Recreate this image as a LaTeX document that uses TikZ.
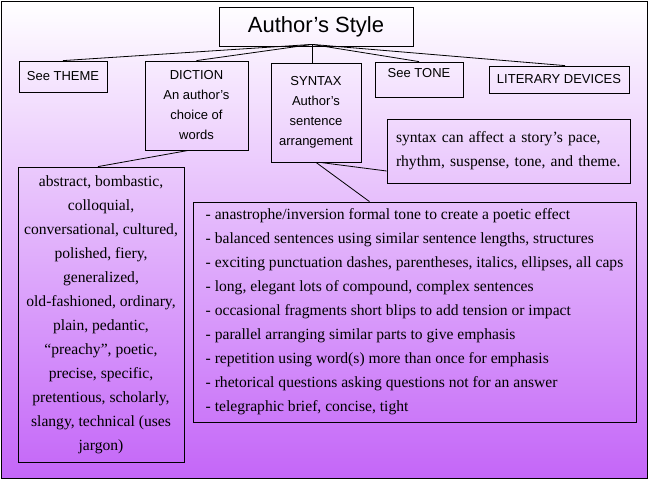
\documentclass[tikz,border=0pt]{standalone}
\usepackage{fontspec}
\setmainfont{Liberation Serif}
\setsansfont{Liberation Sans}
\usetikzlibrary{positioning}
\definecolor{lilac}{RGB}{196,102,248}

\begin{document}
\begin{tikzpicture}[x=1pt,y=-1pt]

\tikzset{box/.style={draw=black, line width=0.8pt, inner sep=0pt, align=center},
         sanstext/.style={font=\sffamily\fontsize{13}{20}\selectfont},
         seriftext/.style={font=\rmfamily\fontsize{15.6}{24}\selectfont},
         link/.style={draw=black, line width=0.8pt}}

\useasboundingbox (0,0) rectangle (649,479);
\shade[top color=white, bottom color=lilac] (1,1) rectangle (647,478);
\draw[line width=1pt] (1,1) rectangle (647,478);

\node[box, minimum width=194, minimum height=39, font=\sffamily\fontsize{22}{24}\selectfont]
    (title) at (316,26.5) {Author's Style};

\node[box, sanstext, minimum width=88, minimum height=31] (theme) at (63,76.5) {See THEME};
\node[box, sanstext, minimum width=103, minimum height=89] (diction) at (196.5,105.5)
    {DICTION\\An author's\\choice of\\words};
\node[box, sanstext, minimum width=90, minimum height=99] (syntax) at (316,112.5)
    {SYNTAX\\Author's\\sentence\\arrangement};
\node[box, sanstext, minimum width=88, minimum height=35, text depth=14pt] (tone) at (419,79.5) {See TONE};
\node[box, sanstext, minimum width=140, minimum height=27] (literary) at (559,79.5) {LITERARY DEVICES};

\node[box, seriftext, minimum width=243, minimum height=64, text width=225, align=left] (note) at (508.5,151)
    {syntax can affect a story’s pace,\\rhythm, suspense, tone, and theme.};

\node[box, seriftext, minimum width=166, minimum height=295] (wordlist) at (101,314.5)
    {abstract, bombastic,\\colloquial,\\conversational, cultured,\\polished, fiery,\\generalized,\\
     old-fashioned, ordinary,\\plain, pedantic,\\“preachy”, poetic,\\precise, specific,\\
     pretentious, scholarly,\\slangy, technical (uses\\jargon)};

\node[box, seriftext, minimum width=443, minimum height=220, align=left] (devices) at (414.5,312)
    {- anastrophe/inversion formal tone to create a poetic effect\\
     - balanced sentences using similar sentence lengths, structures\\
     - exciting punctuation dashes, parentheses, italics, ellipses, all caps\\
     - long, elegant lots of compound, complex sentences\\
     - occasional fragments short blips to add tension or impact\\
     - parallel arranging similar parts to give emphasis\\
     - repetition using word(s) more than once for emphasis\\
     - rhetorical questions asking questions not for an answer\\
     - telegraphic brief, concise, tight};

\coordinate (hub) at ([xshift=-4pt,yshift=2pt]title.south);
\draw[link] (hub) -- (theme.north);
\draw[link] (hub) -- (diction.north);
\draw[link] (hub) -- (hub |- syntax.north);
\draw[link] (hub) -- (tone.north);
\draw[link] (hub) -- ([xshift=6pt]literary.north);

\draw[link] ([xshift=-8pt]diction.south) -- ([xshift=-3pt]wordlist.north);
\draw[link] ([xshift=4pt]syntax.south) -- ([yshift=-20pt]note.west);
\draw[link] (syntax.south) -- ([xshift=-45pt]devices.north);

\end{tikzpicture}
\end{document}
